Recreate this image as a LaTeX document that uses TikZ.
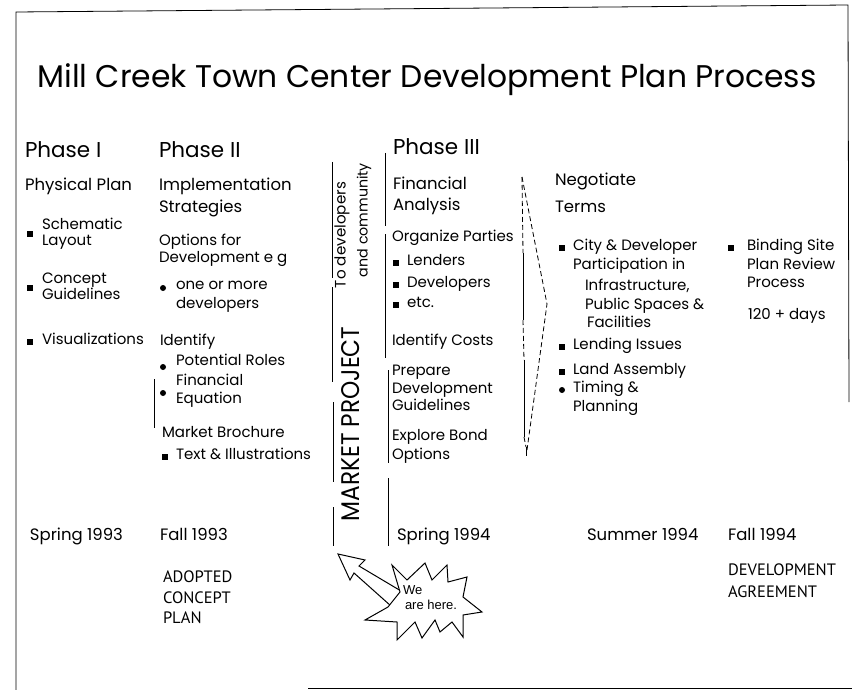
\documentclass[tikz,border=0pt]{standalone}
\usepackage{fontspec}
\setmainfont{Poppins}
\newfontfamily\gillf{PT Sans}
\newfontfamily\arialf{Liberation Sans}
\usetikzlibrary{calc}
\tikzset{
 base/.style={anchor=mid west, inner sep=0pt, outer sep=0pt},
 ph/.style={base, font=\fontsize{21.5}{24}\selectfont},
 hd/.style={base, font=\fontsize{16.5}{19}\selectfont},
 bd/.style={base, font=\fontsize{15}{18}\selectfont},
 dt/.style={base, font=\fontsize{16.5}{19}\selectfont},
 capt/.style={base, font=\gillf\fontsize{16.5}{19}\selectfont},
 sq/.style={fill, rectangle, minimum size=6pt, inner sep=0pt},
 rd/.style={fill, circle, minimum size=6pt, inner sep=0pt},
 rule/.style={line width=0.8pt},
 dash7/.style={line width=0.8pt, dash pattern=on 5pt off 3pt},
}
\begin{document}
\begin{tikzpicture}[x=1pt,y=-1pt]
\useasboundingbox (0,0) rectangle (852,690);
% frame
\coordinate (fbl) at (16,690);
\coordinate (ftl) at (16,12);
\coordinate (ftr) at (848,5);
\coordinate (fbr) at (849,402);
\draw[rule] (fbl) -- (ftl) -- (ftr) -- (fbr);
\coordinate (bb1) at (308,688);
\coordinate (bb2) at (852,688);
\draw[rule] (bb1) -- (bb2);
% title
\node[anchor=mid, inner sep=0pt] (title) at (427,85) {\resizebox{779pt}{!}{Mill Creek Town Center Development Plan Process}};
% phases
\node[ph] (p1) at (25,155) {Phase I};
\node[ph] (p2) at (159,155) {Phase II};
\node[ph] (p3) at (393,152) {Phase III};
% Phase I
\node[hd] (pp) at (25,188) {Physical Plan};
\node[bd] (s1) at (42,227) {Schematic};
\node[bd] (s2) at (42,243) {Layout};
\node[sq] (bs) at (30,234) {};
\node[bd] (c1) at (42,281) {Concept};
\node[bd] (c2) at (42,297) {Guidelines};
\node[sq] (bc) at (30,288) {};
\node[bd] (vz) at (42,342) {Visualizations};
\node[sq] (bv) at (30,342) {};
% Phase II
\node[hd] (im1) at (159,188) {Implementation};
\node[hd] (im2) at (159,210) {Strategies};
\node[bd] (of1) at (159,243) {Options for};
\node[bd] (of2) at (159,260) {Development e g};
\node[rd] (bo) at (163,288) {};
\node[bd] (om1) at (176,287) {one or more};
\node[bd] (om2) at (176,306) {developers};
\node[bd] (idf) at (160,343) {Identify};
\node[rd] (bpr) at (163,367) {};
\node[bd] (pr) at (176,363) {Potential Roles};
\node[rd] (bfe) at (163,393) {};
\node[bd] (fe1) at (176,383) {Financial};
\node[bd] (fe2) at (176,401) {Equation};
\coordinate (br1) at (154,379);
\coordinate (br2) at (154,428);
\draw[rule] (br1) -- (br2);
\node[bd] (mb) at (162,435) {Market Brochure};
\node[sq] (bti) at (165,457) {};
\node[bd] (ti) at (176,457) {Text \& Illustrations};
% middle vertical texts
\node[anchor=mid, inner sep=0pt, rotate=90] (mkt) at (357,424) {\resizebox{195pt}{18pt}{MARKET PROJECT}};
\node[anchor=mid, inner sep=0pt, rotate=90] (tod) at (343,235) {\resizebox{106pt}{!}{To developers}};
\node[anchor=mid, inner sep=0pt, rotate=90] (aco) at (365,220) {\resizebox{114pt}{!}{and community}};
% vertical lines
\coordinate (l1a) at (332,162); \coordinate (l1b) at (332,278);
\coordinate (l2a) at (332,287); \coordinate (l2b) at (332,382);
\coordinate (l3a) at (333,402); \coordinate (l3b) at (333,482);
\coordinate (l4a) at (333,507); \coordinate (l4b) at (333,546);
\draw[rule] (l1a) -- (l1b) (l2a) -- (l2b) (l3a) -- (l3b) (l4a) -- (l4b);
\coordinate (r1a) at (385,153); \coordinate (r1b) at (385,226);
\coordinate (r2a) at (385,234); \coordinate (r2b) at (385,358);
\coordinate (r3a) at (388,370); \coordinate (r3b) at (388,463);
\coordinate (r4a) at (388,478); \coordinate (r4b) at (388,546);
\draw[rule] (r1a) -- (r1b) (r2a) -- (r2b) (r3a) -- (r3b) (r4a) -- (r4b);
% Phase III
\node[hd] (fa1) at (393,187) {Financial};
\node[hd] (fa2) at (393,208) {Analysis};
\node[bd] (op) at (392,239) {Organize Parties};
\node[sq] (bl) at (396,263) {};
\node[bd] (le) at (407,263) {Lenders};
\node[sq] (bd2) at (396,285) {};
\node[bd] (dv) at (407,285) {Developers};
\node[sq] (be) at (396,305) {};
\node[bd] (etc) at (407,305) {etc.};
\node[bd] (ic) at (392,343) {Identify Costs};
\node[bd] (pd1) at (392,373) {Prepare};
\node[bd] (pd2) at (392,391) {Development};
\node[bd] (pd3) at (392,408) {Guidelines};
\node[bd] (eb1) at (392,438) {Explore Bond};
\node[bd] (eb2) at (392,457) {Options};
% chevron
\coordinate (ch1) at (522,177);
\coordinate (ch2) at (547,304);
\coordinate (ch3) at (527,450);
\draw[dash7] (ch1) -- (ch2) -- (ch3);
\coordinate (v1) at (522,177); \coordinate (v2) at (523,253);
\coordinate (v3) at (523,320); \coordinate (v4) at (524,360);
\coordinate (v5) at (524,437); \coordinate (v6) at (526,447);
\coordinate (v7) at (526,456);
\draw[dash7] (v1) -- (v2);
\draw[rule] (v2) -- (v3);
\draw[dash7] (v3) -- (v4);
\draw[rule] (v4) -- (v5);
\draw[dash7] (v5) -- (v6);
\draw[rule] (v6) -- (v7);
% Negotiate
\node[hd] (ng1) at (555,183) {Negotiate};
\node[hd] (ng2) at (555,210) {Terms};
\node[sq] (bcd) at (562,248) {};
\node[bd] (cd1) at (573,248) {City \& Developer};
\node[bd] (cd2) at (573,267) {Participation in};
\node[bd] (cd3) at (585,288) {Infrastructure,};
\node[bd] (cd4) at (585,307) {Public Spaces \&};
\node[bd] (cd5) at (587,325) {Facilities};
\node[sq] (bli) at (562,347) {};
\node[bd] (li) at (573,347) {Lending Issues};
\node[sq] (bla) at (562,372) {};
\node[bd] (la) at (573,372) {Land Assembly};
\node[rd] (btp) at (562,390) {};
\node[bd] (tp1) at (573,390) {Timing \&};
\node[bd] (tp2) at (573,409) {Planning};
\node[sq] (bbs) at (731,248) {};
\node[bd] (bs1) at (747,248) {Binding Site};
\node[bd] (bs2) at (747,267) {Plan Review};
\node[bd] (bs3) at (747,285) {Process};
\node[bd] (days) at (748,317) {120 + days};
% dates
\node[dt] (d1) at (30,538) {Spring 1993};
\node[dt] (d2) at (160,538) {Fall 1993};
\node[dt] (d3) at (397,538) {Spring 1994};
\node[dt] (d4) at (587,538) {Summer 1994};
\node[dt] (d5) at (728,538) {Fall 1994};
\node[capt] (ad1) at (163,580) {ADOPTED};
\node[capt] (ad2) at (163,601) {CONCEPT};
\node[capt] (ad3) at (163,621) {PLAN};
\node[capt] (da1) at (728,573) {DEVELOPMENT};
\node[capt] (da2) at (728,595) {AGREEMENT};
% arrow
\draw[line width=1pt, fill=white] (338,554) -- (365,560) -- (359,566) -- (401,591) -- (391,606) -- (354,573) -- (350,580) -- cycle;
% starburst
\draw[line width=1pt, fill=white] (365,620) -- (388,607) -- (400,592) -- (392,565) -- (407,580) -- (425,563) -- (432,580) -- (447,565) -- (448,582) -- (467,577) -- (463,597) -- (482,612) -- (463,615) -- (463,637) -- (452,622) -- (440,632) -- (435,620) -- (422,638) -- (415,622) -- (397,640) -- (397,622) -- cycle;
\node[base, font=\arialf\fontsize{13}{15}\selectfont] (we) at (403,592) {We};
\node[base, font=\arialf\fontsize{13}{15}\selectfont] (ah) at (405,607) {are here.};
\end{tikzpicture}
\end{document}
